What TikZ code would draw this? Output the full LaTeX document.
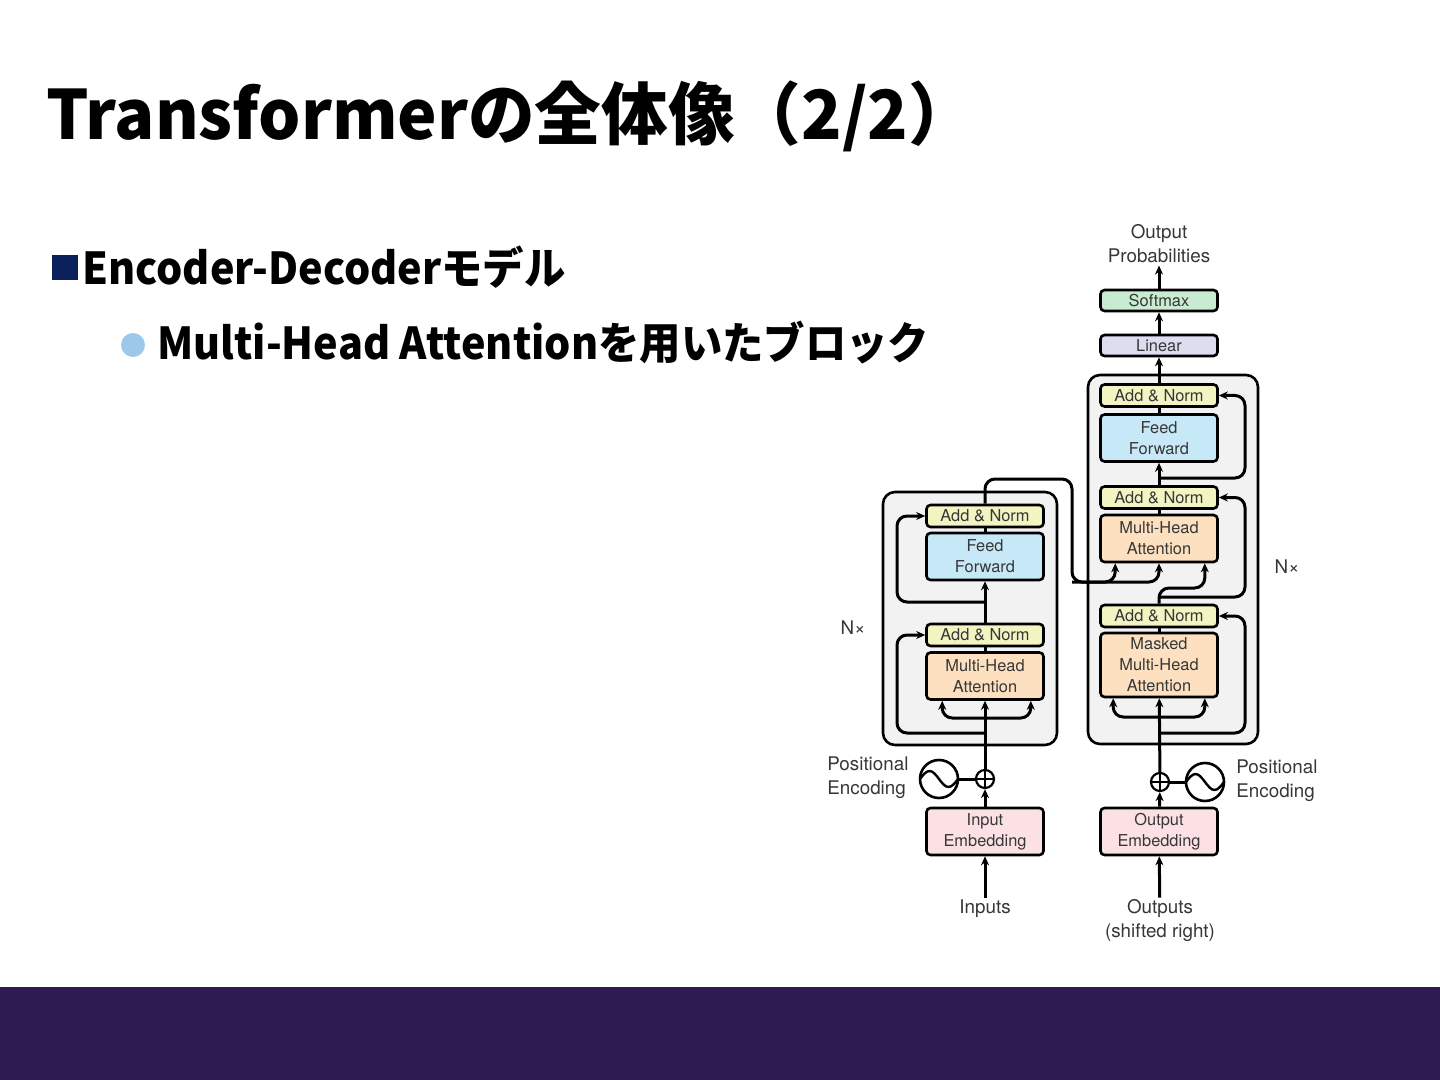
\documentclass[tikz,border=0pt]{standalone}
\usepackage{fontspec}
\setmainfont{TeX Gyre Heros}
\newfontfamily\jpfont{Noto Sans CJK JP}[FakeStretch=0.98]
\newfontfamily\jpnarrow{Noto Sans CJK JP}[FakeStretch=0.94]
\usetikzlibrary{arrows.meta}
\definecolor{anfill}{RGB}{242,244,194}
\definecolor{fffill}{RGB}{199,232,246}
\definecolor{attfill}{RGB}{252,224,192}
\definecolor{embfill}{RGB}{251,224,228}
\definecolor{linfill}{RGB}{220,221,241}
\definecolor{softfill}{RGB}{201,235,210}
\definecolor{stackfill}{RGB}{242,242,242}
\definecolor{txtgray}{RGB}{55,55,55}
\definecolor{barpurple}{RGB}{46,27,82}
\definecolor{sqnavy}{RGB}{12,32,92}
\definecolor{dotblue}{RGB}{157,200,234}
\begin{document}
\begin{tikzpicture}[x=0.5pt,y=-0.5pt,
  every node/.style={font=\fontsize{8.2}{10.5}\selectfont, text=txtgray, align=center},
  blk/.style={draw, line width=1.3pt, rounded corners=2pt, minimum width=58.5pt, inner sep=0pt},
  addnorm/.style={blk, fill=anfill, minimum height=11pt},
  ffbox/.style={blk, fill=fffill, minimum height=23.5pt},
  attbox/.style={blk, fill=attfill, minimum height=23.5pt},
  embbox/.style={blk, fill=embfill, minimum height=23.5pt},
  label/.style={font=\fontsize{9.4}{12}\selectfont, inner sep=1pt},
  plus/.style={draw, circle, line width=1.1pt, minimum size=9pt, inner sep=0pt},
  wave/.style={draw, circle, line width=1.3pt, minimum size=19pt, inner sep=0pt},
  line/.style={line width=1.5pt, rounded corners=5pt},
  arr/.style={line, -{Stealth[length=4.5pt,width=4pt]}},
  stack/.style={draw, line width=1.3pt, rounded corners=6pt, fill=stackfill}]

\fill[white] (0,0) rectangle (1440,1080);
\useasboundingbox (0,0) rectangle (1440,1080);
\fill[barpurple] (0,987) rectangle (1440,1080);

\node[anchor=base west, inner sep=0pt, font=\jpfont\bfseries\fontsize{34}{40}\selectfont, text=black]
  (title) at (46,140) {Transformerの全体像（2/2）};
\fill[sqnavy] (52,255) rectangle (78,280);
\node[anchor=base west, inner sep=0pt, font=\jpnarrow\bfseries\fontsize{22}{26}\selectfont, text=black]
  (item) at (82,285) {Encoder-Decoderモデル};
\fill[dotblue] (133,345) circle (12);
\node[anchor=base west, inner sep=0pt, font=\jpnarrow\bfseries\fontsize{22}{26}\selectfont, text=black]
  (subitem) at (157,360) {Multi-Head Attentionを用いたブロック};

\draw[stack] (883,492) rectangle (1057,745);
\draw[stack] (1088,375) rectangle (1258,744);

\node[addnorm] (eAN2) at (985,516) {Add \& Norm};
\node[ffbox] (eFF) at (985,556.5) {Feed\\Forward};
\node[addnorm] (eAN1) at (985,635) {Add \& Norm};
\node[attbox] (eMHA) at (985,676) {Multi-Head\\Attention};
\node[embbox] (eEmb) at (985,831.5) {Input\\Embedding};
\node[plus] (ePlus) at (985,779) {};
\node[wave] (eSin) at (939,779) {};

\node[addnorm] (dAN3) at (1159,395.5) {Add \& Norm};
\node[ffbox] (dFF) at (1159,438) {Feed\\Forward};
\node[addnorm] (dAN2) at (1159,497.5) {Add \& Norm};
\node[attbox] (dMHA) at (1159,538.5) {Multi-Head\\Attention};
\node[addnorm] (dAN1) at (1159,616) {Add \& Norm};
\node[attbox, minimum height=32pt] (dMMHA) at (1159,665) {Masked\\Multi-Head\\Attention};
\node[embbox] (dEmb) at (1159,831.5) {Output\\Embedding};
\node[plus] (dPlus) at (1160,782) {};
\node[wave] (dSin) at (1205,782) {};
\node[blk, fill=linfill, minimum height=10.5pt] (lin) at (1159,345.5) {Linear};
\node[blk, fill=softfill, minimum height=10.5pt] (soft) at (1159,300.5) {Softmax};

\node[label] (prob) at (1159,244) {Output\\Probabilities};
\node[label] (inp) at (985,909) {Inputs};
\node[label] (outp) at (1160,921) {Outputs\\(shifted right)};
\node[label, anchor=west, align=left] (ePE) at (825,778) {Positional\\Encoding};
\node[label, anchor=west, align=left] (dPE) at (1234,781) {Positional\\Encoding};
\node[label] (eN) at (853,628) {N×};
\node[label] (dN) at (1287,567) {N×};

\foreach \p in {ePlus,dPlus}
  \draw[line width=0.9pt] (\p.north) -- (\p.south) (\p.west) -- (\p.east);
\foreach \s in {eSin,dSin}
  \draw[line width=1.2pt] ([xshift=-9.5pt]\s.center) sin ++(4.75pt,4pt) cos ++(4.75pt,-4pt)
    sin ++(4.75pt,-4pt) cos ++(4.75pt,4pt);

\coordinate (eSplit) at (985,718);
\coordinate (eBr1) at (985,733);
\coordinate (eR1) at (897,733);
\coordinate (eBr2) at (985,602);
\coordinate (eR2) at (897,602);
\coordinate (eTurn) at (1072,479);
\coordinate (eCross) at (1072,582);
\coordinate (dSplit) at (1159,717);
\coordinate (dBr1) at (1159,733);
\coordinate (dR1) at (1245,733);
\coordinate (dQ) at (1159,588);
\coordinate (dBr2) at (1159,597);
\coordinate (dR2) at (1245,597);
\coordinate (dBr3) at (1159,478);
\coordinate (dR3) at (1245,478);

\draw[arr] (inp) -- (eEmb);
\draw[arr] (eEmb) -- (ePlus);
\draw[line] (eSin) -- (ePlus);
\draw[arr] (ePlus) -- (eMHA);
\draw[arr] (eSplit) -| ([xshift=8.5pt]eMHA.south west);
\draw[arr] (eSplit) -| ([xshift=-7pt]eMHA.south east);
\draw[arr] (eBr1) -- (eR1) |- (eAN1.west);
\draw[line] (eMHA) -- (eAN1);
\draw[arr] (eAN1) -- (eFF);
\draw[arr] (eBr2) -- (eR2) |- (eAN2.west);
\draw[line] (eFF) -- (eAN2);
\draw[arr] (eAN2.north) |- (eTurn) -- (eCross) -| ([xshift=8pt]dMHA.south west);
\draw[arr] (eCross) -| (dMHA.south);

\draw[arr] (outp) -- (dEmb);
\draw[arr] (dEmb) -- (dPlus);
\draw[line] (dSin) -- (dPlus);
\draw[arr] (dPlus) -- (dMMHA);
\draw[arr] (dSplit) -| ([xshift=7pt]dMMHA.south west);
\draw[arr] (dSplit) -| ([xshift=-7pt]dMMHA.south east);
\draw[arr] (dBr1) -- (dR1) |- (dAN1.east);
\draw[line] (dMMHA) -- (dAN1);
\draw[arr] (dAN1.north) -- (dQ) -| ([xshift=-7pt]dMHA.south east);
\draw[arr] (dBr2) -- (dR2) |- (dAN2.east);
\draw[line] (dMHA) -- (dAN2);
\draw[arr] (dAN2) -- (dFF);
\draw[arr] (dBr3) -- (dR3) |- (dAN3.east);
\draw[line] (dFF) -- (dAN3);
\draw[arr] (dAN3) -- (lin);
\draw[arr] (lin) -- (soft);
\draw[arr] (soft) -- (prob);
\end{tikzpicture}
\end{document}
